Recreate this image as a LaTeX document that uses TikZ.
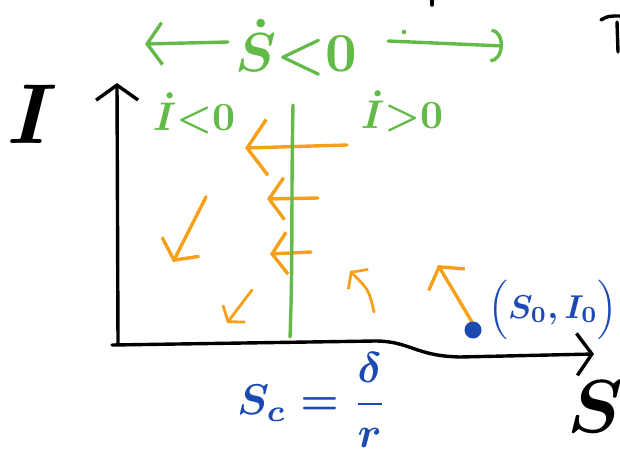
\documentclass[tikz,border=0pt]{standalone}
\usetikzlibrary{arrows.meta}
\definecolor{hgreen}{RGB}{100,186,72}
\definecolor{horange}{RGB}{246,160,26}
\definecolor{hblue}{RGB}{28,74,178}
\begin{document}
\begin{tikzpicture}[x=1pt,y=-1pt,
  pen/.style={line width=3.4pt, line cap=round, line join=round},
  thinpen/.style={line width=2.8pt, line cap=round, line join=round},
  tipbig/.style={-{Straight Barb[length=20pt,width=56pt]}},
  tipmid/.style={-{Straight Barb[length=15pt,width=42pt]}},
  tipsmall/.style={-{Straight Barb[length=10pt,width=28pt]}},
  tiparc/.style={-{Arc Barb[length=12pt,width=34pt]}},
  lbl/.style={inner sep=0pt, anchor=base, font=\boldmath}
]
\useasboundingbox (0,0) rectangle (620,455);

% stray black fragments at the top edge
\coordinate (t0) at (432,0); \coordinate (t1) at (432,5);
\draw[pen] (t0) -- (t1);
\coordinate (r0) at (601,20); \coordinate (r1) at (620,16);
\coordinate (r2) at (617,22); \coordinate (r3) at (618,52);
\draw[pen] (r0) .. controls (608,16) .. (r1);
\draw[pen] (r2) -- (r3);

% axes
\coordinate (o) at (118,344);
\coordinate (ytop) at (117,83);
\coordinate (xs) at (112,345);
\coordinate (xe) at (594,354);
\draw[pen,tipmid] (o) -- (ytop);
\draw[pen,tipmid] (xs) -- (375,341) .. controls (410,341) and (415,356) .. (460,357) -- (xe);
\node[lbl, scale=8.5] (ylab) at (33,143) {$I$};
\node[lbl, scale=7.5] (xlab) at (595,432) {$S$};

% green top
\node[lbl, text=hgreen, scale=5.5] (sdot) at (296,71) {$\dot S{<}0$};
\coordinate (gl0) at (228,42); \coordinate (gl1) at (145,44);
\coordinate (gr0) at (388,41); \coordinate (gr1) at (503,46);
\draw[pen,hgreen,tipmid] (gl0) -- (gl1);
\draw[pen,hgreen,tiparc] (gr0) -- (gr1);
\fill[hgreen] (404,32) circle (2.3);
\node[lbl, text=hgreen, scale=4] (ineg) at (194,130) {$\dot I{<}0$};
\node[lbl, text=hgreen, scale=4] (ipos) at (402,128) {$\dot I{>}0$};

% orange arrows
\coordinate (a1s) at (347,145); \coordinate (a1e) at (245,148);
\coordinate (a2s) at (318,198); \coordinate (a2e) at (267,199);
\coordinate (a3s) at (311,252); \coordinate (a3e) at (270,254);
\coordinate (a4s) at (206,197); \coordinate (a4e) at (173,262);
\coordinate (a5s) at (252,290); \coordinate (a5e) at (227,323);
\coordinate (a6s) at (374,312); \coordinate (a6e) at (350,271);
\coordinate (a7s) at (472,322); \coordinate (a7e) at (438,265);
\draw[pen,horange,tipbig] (a1s) -- (a1e);
\draw[pen,horange,tipmid] (a2s) -- (a2e);
\draw[pen,horange,tipmid] (a3s) -- (a3e);
\draw[pen,horange,tipmid] (a4s) -- (a4e);
\draw[thinpen,horange,tipsmall] (a5s) -- (a5e);
\draw[thinpen,horange,tipsmall] (a6s) .. controls (369,290) .. (a6e);
\draw[pen,horange,tipmid] (a7s) -- (a7e);

% green nullcline
\coordinate (n0) at (293,105); \coordinate (n1) at (290,337);
\draw[pen,hgreen] (n0) .. controls (291,200) and (293,260) .. (n1);

% initial point
\node[circle, fill=hblue, minimum size=17pt, inner sep=0pt] (p0) at (473,330) {};
\node[lbl, text=hblue, scale=3.3] (p0lab) at (553,318) {$\Bigl(S_0,I_0\Bigr)$};

% threshold
\node[text=hblue, scale=4.3, inner sep=0pt, font=\boldmath] (sc) at (312,400) {$\displaystyle S_c=\frac{\delta}{r}$};
\end{tikzpicture}
\end{document}
